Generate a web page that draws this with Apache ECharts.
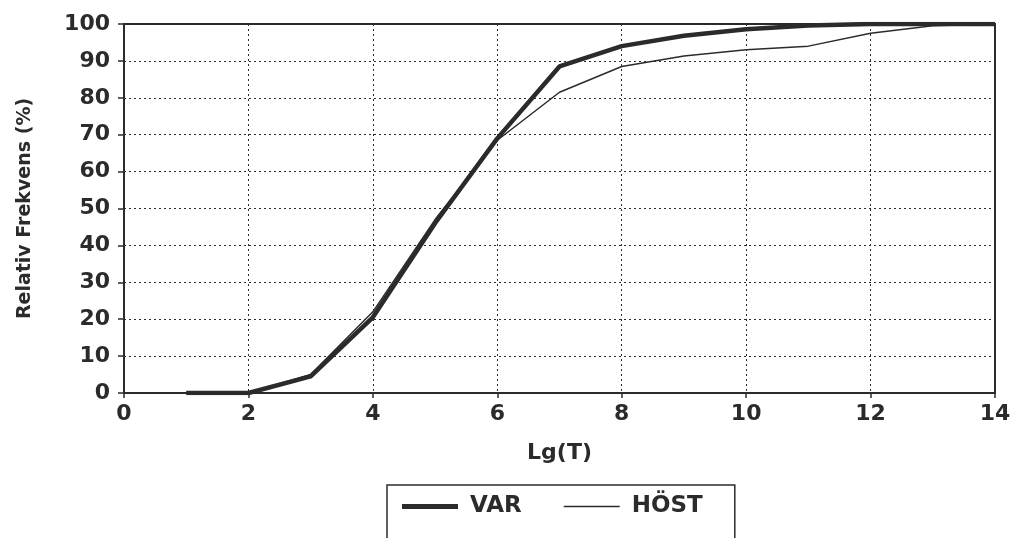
<!DOCTYPE html>
<html>
<head>
<meta charset="utf-8">
<script src="https://cdn.jsdelivr.net/npm/echarts@6/dist/echarts.min.js"></script>
<style>
  html, body { margin: 0; padding: 0; background: #fff; }
  #chart { width: 1016px; height: 538px; }
</style>
</head>
<body>
<div id="chart"></div>
<script>
    var lgT = [1, 2, 3, 4, 5, 6, 7, 8, 9, 10, 11, 12, 13, 14];
    var varValues = [0, 0, 4.5, 20.5, 46, 69, 88.5, 94, 96.8, 98.6, 99.6, 100, 100, 100];
    var hostValues = [0, 0, 5, 22, 47, 68.5, 81.5, 88.5, 91.3, 93, 94, 97.5, 99.5, 100];

    function pairs(xs, ys) {
        return xs.map(function (x, i) { return [x, ys[i]]; });
    }

    var ink = '#2b2b2b';
    var font = '"DejaVu Sans", Verdana, sans-serif';

    // legend keys: a bar drawn inside an invisible 56x14 box so the stroke keeps its own thickness
    var thickKey = 'path://M0,0H56V0.01H0Z M0,4.6H56V9.4H0Z M0,13.99H56V14H0Z';
    var thinKey = 'path://M0,0H56V0.01H0Z M0,6.2H56V7.8H0Z M0,13.99H56V14H0Z';

    var chart = echarts.init(document.getElementById('chart'), null, { renderer: 'canvas' });

    chart.setOption({
        backgroundColor: '#ffffff',
        animation: false,
        grid: {
            left: 124, right: 21, top: 24, bottom: 145,
            show: true, borderColor: ink, borderWidth: 2
        },
        legend: {
            left: 387, top: 485,
            padding: [10, 32, 60, 15],
            itemGap: 42,
            itemWidth: 56, itemHeight: 14,
            borderColor: ink, borderWidth: 1.5,
            itemStyle: { borderWidth: 0 },
            textStyle: { fontFamily: font, fontWeight: 'bold', fontSize: 23, lineHeight: 22, color: ink, padding: [0, 0, 0, 7] },
            data: [
                { name: 'VAR', icon: thickKey },
                { name: 'HÖST', icon: thinKey }
            ]
        },
        xAxis: {
            type: 'value', min: 0, max: 14, interval: 2,
            name: 'Lg(T)', nameLocation: 'middle', nameGap: 49,
            nameTextStyle: { fontFamily: font, fontWeight: 'bold', fontSize: 22, color: ink },
            axisLine: { lineStyle: { color: ink, width: 2 } },
            axisTick: { length: 5, lineStyle: { color: ink, width: 1.5 } },
            axisLabel: { margin: 10, fontFamily: font, fontWeight: 'bold', fontSize: 22, color: ink },
            splitLine: { show: true, lineStyle: { color: ink, type: [2, 3], width: 1 } }
        },
        yAxis: {
            type: 'value', min: 0, max: 100, interval: 10,
            name: 'Relativ Frekvens (%)', nameLocation: 'middle', nameGap: 89,
            nameTextStyle: { fontFamily: font, fontWeight: 'bold', fontSize: 19, color: ink },
            axisLine: { show: true, lineStyle: { color: ink, width: 2 } },
            axisTick: { show: true, length: 6, lineStyle: { color: ink, width: 1.5 } },
            axisLabel: { margin: 14, fontFamily: font, fontWeight: 'bold', fontSize: 22, color: ink },
            splitLine: { show: true, lineStyle: { color: ink, type: [2, 3], width: 1 } }
        },
        series: [
            {
                name: 'VAR', type: 'line', data: pairs(lgT, varValues),
                symbol: 'none',
                lineStyle: { color: ink, width: 4.5 },
                itemStyle: { color: ink },
                z: 3
            },
            {
                name: 'HÖST', type: 'line', data: pairs(lgT, hostValues),
                symbol: 'none',
                lineStyle: { color: ink, width: 1.5 },
                itemStyle: { color: ink },
                z: 4
            }
        ]
    });
</script>
</body>
</html>
